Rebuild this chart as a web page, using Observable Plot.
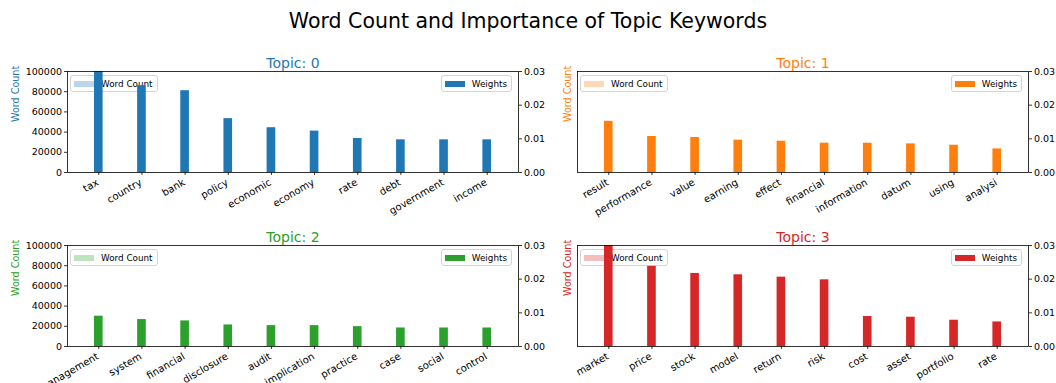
<!DOCTYPE html>
<html><head><meta charset="utf-8">
<script src="https://cdn.jsdelivr.net/npm/d3@7"></script>
<script src="https://cdn.jsdelivr.net/npm/@observablehq/plot@0.6"></script>
<style>
body{margin:0;background:#fff;font-family:"DejaVu Sans",sans-serif;}
#chart{position:relative;width:1056px;height:383px;overflow:hidden;background:#fff;}
#title{position:absolute;left:0;width:1056px;top:9px;text-align:center;font-size:20.5px;line-height:24px;color:#000;}
.sub{position:absolute;}
.layer{position:absolute;left:0;top:0;}
.layer svg{overflow:visible;display:block;}
.legend{position:absolute;display:flex;align-items:center;height:17px;box-sizing:border-box;border:1px solid #d4d4d4;border-radius:3px;background:rgba(255,255,255,0.8);font-size:8.8px;padding:0 4px 0 3px;color:#000;white-space:nowrap;}
.legend .patch{width:20px;height:6px;margin-right:7px;}
</style></head>
<body><div id="chart"><div id="title">Word Count and Importance of Topic Keywords</div></div>
<script>
// ---- data ----
const topicTitles = ["Topic: 0", "Topic: 1", "Topic: 2", "Topic: 3"];
const topicColors = ["#1f77b4", "#ff7f0e", "#2ca02c", "#d62728"];

const words0 = ["tax", "country", "bank", "policy", "economic", "economy", "rate", "debt", "government", "income"];
const weights0 = [0.0301, 0.0258, 0.0243, 0.0160, 0.0133, 0.0123, 0.0101, 0.0097, 0.0097, 0.0097];

const words1 = ["result", "performance", "value", "earning", "effect", "financial", "information", "datum", "using", "analysi"];
const weights1 = [0.0152, 0.0107, 0.0104, 0.0096, 0.0093, 0.0087, 0.0087, 0.0085, 0.0081, 0.0070];

const words2 = ["management", "system", "financial", "disclosure", "audit", "implication", "practice", "case", "social", "control"];
const weights2 = [0.0090, 0.0080, 0.0076, 0.0064, 0.0062, 0.0062, 0.0059, 0.0055, 0.0055, 0.0055];

const words3 = ["market", "price", "stock", "model", "return", "risk", "cost", "asset", "portfolio", "rate"];
const weights3 = [0.0301, 0.0238, 0.0217, 0.0213, 0.0206, 0.0198, 0.0089, 0.0087, 0.0078, 0.0073];

const wordCountTicks = [0, 20000, 40000, 60000, 80000, 100000];
const weightTicks = [0, 0.01, 0.02, 0.03];
const wordCountDomain = [0, 100000];
const weightDomain = [0, 0.03];

const allWords = [words0, words1, words2, words3];
const allWeights = [weights0, weights1, weights2, weights3];

// ---- layout ----
const frames = [{left: 67, top: 71}, {left: 577, top: 71}, {left: 67, top: 245}, {left: 577, top: 245}];
const FW = 451, FH = 101;
const mL = 70, mR = 40, mT = 30, mB = 45;
const W = mL + FW + mR, H = mT + FH + mB;
const xDomain = [-0.725, 9.725];
const barHalf = 0.1;

const chart = document.getElementById("chart");

allWords.forEach((words, t) => {
  const color = topicColors[t];
  const leftCol = (t % 2 === 0);
  const data = words.map((w, i) => ({word: w, idx: i, weight: allWeights[t][i]}));
  const idxs = words.map((w, i) => i);
  const f = frames[t];
  const sub = document.createElement("div");
  sub.className = "sub";
  sub.style.left = (f.left - mL) + "px";
  sub.style.top = (f.top - mT) + "px";
  sub.style.width = W + "px";
  sub.style.height = H + "px";
  chart.appendChild(sub);

  const common = {
    width: W, height: H, marginLeft: mL, marginRight: mR, marginTop: mT, marginBottom: mB,
    style: {background: "transparent", fontFamily: "DejaVu Sans", fontSize: "10px", color: "#000", overflow: "visible"}
  };

  // word-count axes (left)
  const marksA = [
    Plot.text(["Word Count"], {frameAnchor: "left", dx: leftCol ? -52 : -10, rotate: -90, fill: color, fontSize: 9.6})
  ];
  if (leftCol) {
    marksA.unshift(Plot.axisY(wordCountTicks, {anchor: "left", tickSize: 3, tickPadding: 2.5, strokeWidth: 0.8, fontSize: 9.5,
      tickFormat: d3.format("d"), label: null}));
  }
  const plotA = Plot.plot({
    ...common,
    x: {domain: xDomain, axis: null},
    y: {domain: wordCountDomain, axis: null},
    marks: marksA
  });
  const layerA = document.createElement("div");
  layerA.className = "layer"; layerA.style.zIndex = 1;
  layerA.appendChild(plotA);
  sub.appendChild(layerA);

  const legA = document.createElement("div");
  legA.className = "legend";
  legA.style.left = (mL + 3) + "px";
  legA.style.top = (mT + 4) + "px";
  legA.style.zIndex = 2;
  legA.innerHTML = `<span class="patch" style="background:${color};opacity:0.3"></span><span>Word Count</span>`;
  sub.appendChild(legA);

  // weights axes (right, twin)
  const plotB = Plot.plot({
    ...common,
    x: {domain: xDomain, axis: null},
    y: {domain: weightDomain, axis: null},
    marks: [
      Plot.rect(data, {x1: d => d.idx - barHalf, x2: d => d.idx + barHalf, y1: 0, y2: "weight", fill: color, clip: true}),
      Plot.frame({stroke: "#000", strokeWidth: 0.8}),
      Plot.axisY(weightTicks, {anchor: "right", tickSize: 3, tickPadding: 2.5, strokeWidth: 0.8, fontSize: 9.5, tickFormat: d3.format(".2f"), label: null}),
      Plot.axisX(idxs, {anchor: "bottom", tickSize: 3, strokeWidth: 0.8, tickFormat: () => "", label: null}),
      Plot.axisX(idxs, {anchor: "bottom", tickSize: 0, tickPadding: 2, tickRotate: -30, dy: 7, dx: -1, fontSize: 10, tickFormat: i => words[i], label: null}),
      Plot.text([topicTitles[t]], {frameAnchor: "top", dy: -4, lineAnchor: "bottom", fill: color, fontSize: 14})
    ]
  });
  const layerB = document.createElement("div");
  layerB.className = "layer"; layerB.style.zIndex = 3;
  layerB.appendChild(plotB);
  sub.appendChild(layerB);

  const legB = document.createElement("div");
  legB.className = "legend";
  legB.style.right = (mR + 6) + "px";
  legB.style.top = (mT + 4) + "px";
  legB.style.zIndex = 4;
  legB.innerHTML = `<span class="patch" style="background:${color}"></span><span>Weights</span>`;
  sub.appendChild(legB);
});
</script>
</body></html>
